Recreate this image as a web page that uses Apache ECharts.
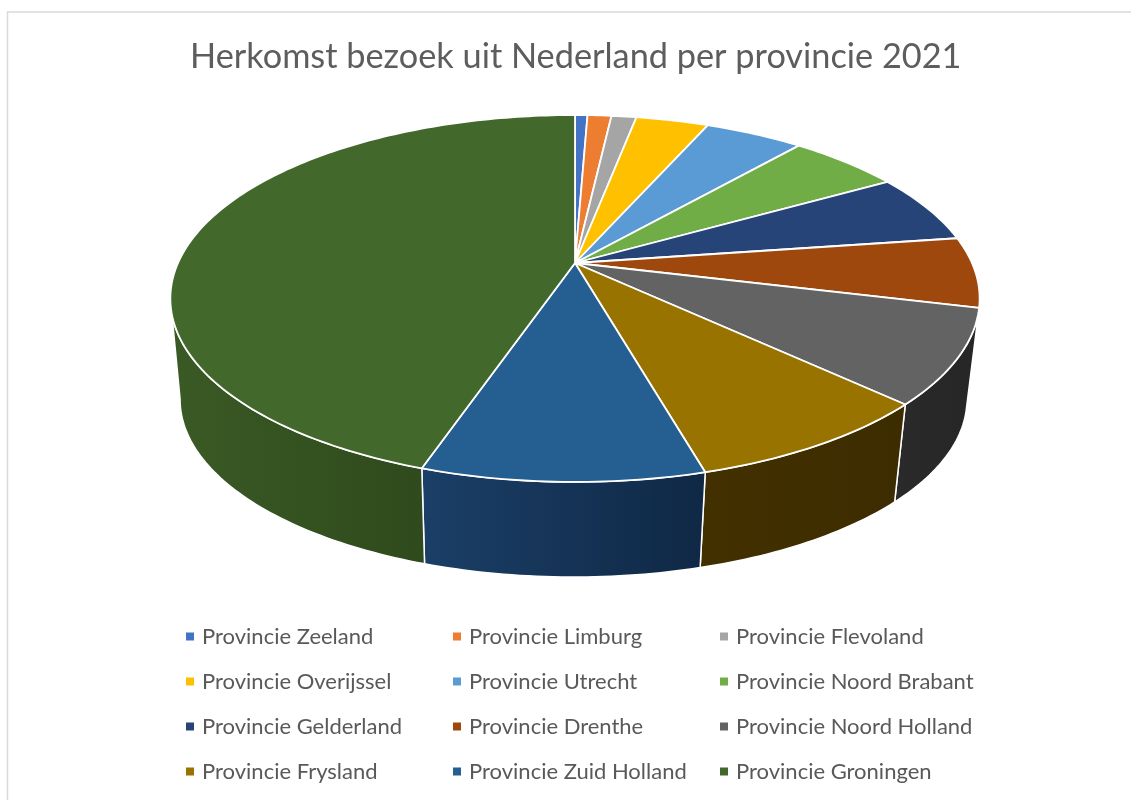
<!DOCTYPE html>
<html><head><meta charset="utf-8">
<style>html,body{margin:0;padding:0;background:#fff}#c{width:1131px;height:800px}</style>
<script src="https://cdn.jsdelivr.net/npm/echarts@6/dist/echarts.min.js"></script>
</head><body><div id="c"></div>
<script>
const titleText = 'Herkomst bezoek uit Nederland per provincie 2021';
const provinces = ['Provincie Zeeland','Provincie Limburg','Provincie Flevoland','Provincie Overijssel','Provincie Utrecht','Provincie Noord Brabant','Provincie Gelderland','Provincie Drenthe','Provincie Noord Holland','Provincie Frysland','Provincie Zuid Holland','Provincie Groningen'];
const shares = [0.6,1.15,1.2,3.5,4.75,5.4,6.1,6.2,8.3,8.5,9.4,44.9];
const topColors = ['#4472C4','#ED7D31','#A5A5A5','#FFC000','#5B9BD5','#70AD47','#264478','#9E480E','#636363','#997300','#255E91','#43682B'];
const wallLeft = ['#2d4a7c','#a85620','#707070','#b38600','#3a6f9e','#4d7a30','#1a2f55','#6e3209','#2a2a2a','#423000','#1b3f68','#3a5a25'];
const wallRight = ['#2d4a7c','#a85620','#707070','#b38600','#3a6f9e','#4d7a30','#1a2f55','#6e3209','#262626','#3d2c00','#0f2845','#2f4a1c'];

const total = shares.reduce((a,b)=>a+b,0);
const geom = {cx:575, topY:263, A:397, B:176.6, k:0.1935, botCx:573.5, botY:365, botA:386, botB:171, wallFrom:101, wallTo:259};
function pt(deg, ox, oy, A, B){
  const t = deg*Math.PI/180, u = Math.sin(t), v = Math.cos(t), w = 1+geom.k*v;
  return [ox + A*u/w, oy - B*v/w];
}
const topPt = d => pt(d, geom.cx, geom.topY, geom.A, geom.B);
const botPt = d => pt(d, geom.botCx, geom.botY, geom.botA, geom.botB);

function sliceRenderer(i){
  return function(params, api){
    const before = shares.slice(0,i).reduce((a,b)=>a+b,0);
    const a0 = before/total*360, a1 = (before+api.value(0))/total*360;
    const n = Math.max(2, Math.ceil(a1-a0));
    const arc = [];
    for(let j=0;j<=n;j++) arc.push(a0+(a1-a0)*j/n);
    const children = [];
    const w0 = Math.max(a0,geom.wallFrom), w1 = Math.min(a1,geom.wallTo);
    if(w1>w0){
      const m = Math.max(2, Math.ceil(w1-w0));
      const up=[], lo=[];
      for(let j=0;j<=m;j++){const d=w0+(w1-w0)*j/m; up.push(topPt(d)); lo.unshift(botPt(d));}
      children.push({type:'polygon', z2:1, shape:{points:up.concat(lo)},
        style:{fill:{type:'linear',x:0,y:0,x2:1,y2:0,colorStops:[{offset:0,color:wallLeft[i]},{offset:1,color:wallRight[i]}]},stroke:'#fff',lineWidth:1.5}});
    }
    const pts = [[geom.cx,geom.topY]].concat(arc.map(topPt));
    children.push({type:'polygon', z2:10, shape:{points:pts},
      style:{fill:topColors[i],stroke:'#fff',lineWidth:1.8,lineJoin:'round'}});
    return {type:'group',children};
  };
}

const series = provinces.map((name,i)=>({
  type:'custom', name, coordinateSystem:'none', silent:true, animation:false,
  itemStyle:{color:topColors[i]},
  data:[[shares[i]]], renderItem:sliceRenderer(i), clip:false
}));

function col(idx,left){
  return {show:true,orient:'vertical',left,top:624,itemWidth:8,itemHeight:8,itemGap:20,selectedMode:false,icon:'rect',
    data:idx.map(i=>provinces[i]),
    textStyle:{fontFamily:'Lato',fontSize:22,color:'#595959',lineHeight:25,padding:[0,0,0,3]},padding:0};
}
const chart = echarts.init(document.getElementById('c'),null,{renderer:'canvas'});
chart.setOption({
  backgroundColor:'#fff', animation:false,
  title:{text:titleText,left:190,top:40,padding:0,
    textStyle:{fontFamily:'Lato',fontSize:34.3,fontWeight:'normal',color:'#5d5d5d'}},
  legend:[col([0,3,6,9],186),col([1,4,7,10],453),col([2,5,8,11],720)],
  graphic:[{type:'rect',z:-1,silent:true,shape:{x:7.5,y:12,width:1300,height:900},style:{fill:'none',stroke:'#d9d9d9',lineWidth:1.5}}],
  series
});
</script></body></html>
